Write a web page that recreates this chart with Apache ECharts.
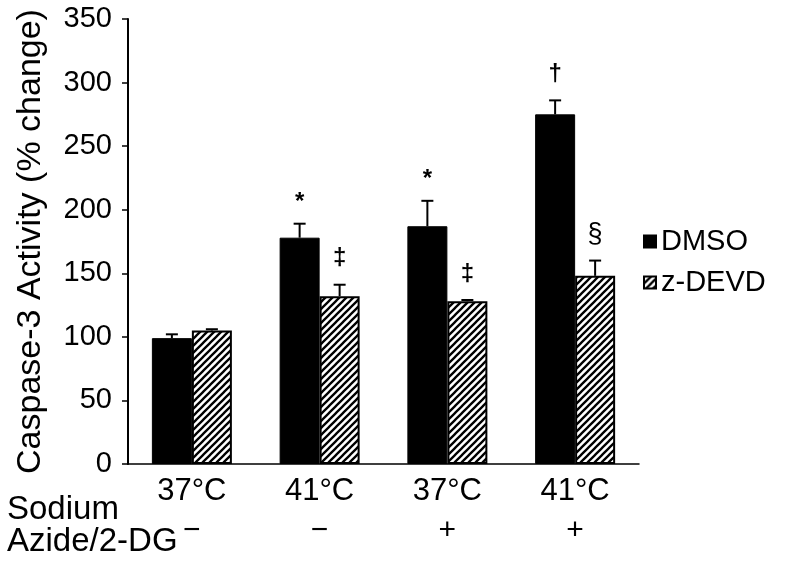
<!DOCTYPE html>
<html>
<head>
<meta charset="utf-8">
<script src="https://cdn.jsdelivr.net/npm/echarts@6/dist/echarts.min.js"></script>
<style>html,body{margin:0;padding:0;background:#fff;}#c{width:790px;height:568px;}</style>
</head>
<body>
<div id="c"></div>
<script>
// ---- data ----
const categories = ['37°C', '41°C', '37°C', '41°C'];
const azideRow = ['−', '−', '+', '+'];
const dmso = [99, 178, 187, 275];
const dmsoErr = [3, 11, 20, 11];
const zdevd = [105, 132, 128, 148];
const zdevdErr = [1, 9, 1, 12];
const dmsoMarks = ['', '*', '*', '†'];
const zdevdMarks = ['', '‡', '‡', '§'];
const seriesNames = ['DMSO', 'z-DEVD'];
const yAxisName = 'Caspase-3 Activity (% change)';
const rowLabel = ['Sodium', 'Azide/2-DG'];

// ---- style ----
const FONT = '"Liberation Sans", Arial, sans-serif';
const BAR_W = 40;

function hatchCanvas() {
  const s = 7;
  const c = document.createElement('canvas');
  c.width = s; c.height = s;
  const g = c.getContext('2d');
  g.fillStyle = '#fff';
  g.fillRect(0, 0, s, s);
  g.strokeStyle = '#000';
  g.lineWidth = 2.3;
  g.beginPath();
  g.moveTo(-1, s + 1); g.lineTo(s + 1, -1);
  g.moveTo(-1, 1); g.lineTo(1, -1);
  g.moveTo(s - 1, s + 1); g.lineTo(s + 1, s - 1);
  g.stroke();
  return c;
}
const hatch = { image: hatchCanvas(), repeat: 'repeat' };

function errData(vals, errs) {
  return vals.map((v, i) => [i, v, errs[i]]);
}

function makeRenderErr(marks, side) {
  return function (params, api) {
    const i = api.value(0), v = api.value(1), e = api.value(2);
    const mark = marks[params.dataIndex];
    const dx = side * BAR_W / 2;
    const base = api.coord([i, v]);
    const top = api.coord([i, v + e]);
    const x = base[0] + dx;
    const children = [
      { type: 'line', shape: { x1: x, y1: base[1], x2: x, y2: top[1] }, style: { stroke: '#000', lineWidth: 2 } },
      { type: 'line', shape: { x1: x - 6, y1: top[1], x2: x + 6, y2: top[1] }, style: { stroke: '#000', lineWidth: 2 } }
    ];
    if (mark) {
      const big = mark === '§';
      children.push({
        type: 'text',
        style: {
          text: mark, x: x, y: top[1] - (mark === '*' ? 21 : 26),
          align: 'center', verticalAlign: 'middle',
          font: (big ? 'normal 27px ' : 'bold 24px ') + FONT,
          fill: '#000'
        }
      });
    }
    return { type: 'group', children: children };
  };
}

const chart = echarts.init(document.getElementById('c'), null, { renderer: 'canvas' });
chart.setOption({
  animation: false,
  backgroundColor: '#fff',
  textStyle: { fontFamily: FONT, color: '#000' },
  grid: { left: 128, right: 151, top: 19, bottom: 104, containLabel: false, outerBoundsMode: 'none' },
  legend: {
    orient: 'vertical',
    left: 638,
    top: 222,
    itemWidth: 12,
    itemHeight: 12,
    itemGap: 12,
    icon: 'rect',
    data: seriesNames,
    textStyle: { fontSize: 29, color: '#000', fontFamily: FONT }
  },
  xAxis: [{
    type: 'category',
    data: categories,
    axisLine: { lineStyle: { color: '#000', width: 1.5 } },
    axisTick: { show: false },
    axisLabel: { color: '#000', fontSize: 31, fontFamily: FONT, margin: 12 }
  }, {
    type: 'category',
    position: 'bottom',
    offset: 44,
    data: azideRow,
    axisLine: { show: false },
    axisTick: { show: false },
    axisLabel: { color: '#000', fontSize: 30, fontFamily: FONT, margin: 8 }
  }],
  yAxis: {
    type: 'value',
    min: 0, max: 350, interval: 50,
    name: yAxisName,
    nameLocation: 'middle',
    nameGap: 80,
    nameRotate: 90,
    nameTextStyle: { fontSize: 34, color: '#000', fontFamily: FONT },
    axisLine: { show: true, lineStyle: { color: '#000', width: 2 } },
    axisTick: { show: true, length: 6, lineStyle: { color: '#000', width: 1.5 } },
    splitLine: { show: false },
    axisLabel: { color: '#000', fontSize: 29, fontFamily: FONT, margin: 16 }
  },
  series: [{
    name: seriesNames[0],
    type: 'bar',
    data: dmso,
    barWidth: BAR_W,
    barGap: '0%',
    itemStyle: { color: '#000', borderColor: '#000', borderWidth: 1 }
  }, {
    name: seriesNames[1],
    type: 'bar',
    data: zdevd,
    barWidth: BAR_W,
    barGap: '0%',
    itemStyle: { color: hatch, borderColor: '#000', borderWidth: 2 }
  }, {
    type: 'custom',
    renderItem: makeRenderErr(dmsoMarks, -1),
    data: errData(dmso, dmsoErr),
    encode: { x: 0, y: 1 },
    z: 5
  }, {
    type: 'custom',
    renderItem: makeRenderErr(zdevdMarks, 1),
    data: errData(zdevd, zdevdErr),
    encode: { x: 0, y: 1 },
    z: 5
  }],
  graphic: [{
    type: 'text', left: 7, top: 493,
    style: { text: rowLabel[0], font: '33px ' + FONT, fill: '#000' }
  }, {
    type: 'text', left: 7, top: 525,
    style: { text: rowLabel[1], font: '33px ' + FONT, fill: '#000' }
  }]
});
</script>
</body>
</html>
